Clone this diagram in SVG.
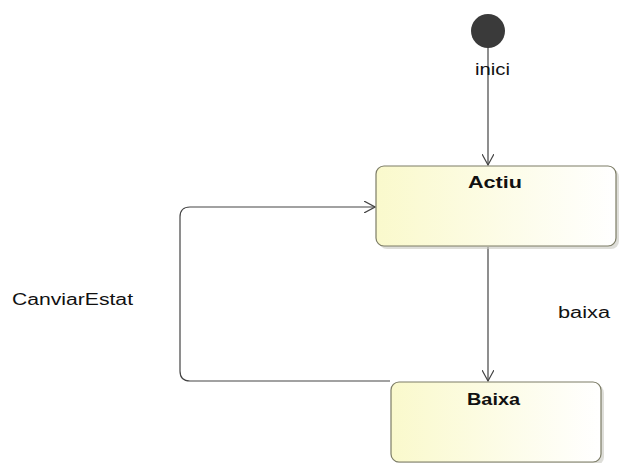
<svg xmlns="http://www.w3.org/2000/svg" width="619" height="463" viewBox="0 0 619 463">
  <style>
    text { font-family: "Liberation Sans", Arial, sans-serif; fill: #111; }
    .lbl { font-size: 16px; }
    .name { font-size: 17px; font-weight: bold; }
    .box { fill: url(#stateFill); stroke: #7c7c66; stroke-width: 1.2; }
    .shadow { fill: #c8c8c0; opacity: 0.6; }
    .conn { fill: none; stroke: #444; stroke-width: 1.2; }
  </style>
  <defs>
    <linearGradient id="stateFill" x1="0" y1="0" x2="1" y2="0">
      <stop offset="0" stop-color="#faf9cc"/>
      <stop offset="1" stop-color="#ffffff"/>
    </linearGradient>
    <marker id="openArrow" viewBox="0 0 12 12" refX="11" refY="6" markerWidth="12" markerHeight="12" markerUnits="userSpaceOnUse" orient="auto">
      <path d="M0,0 L11,6 L0,12" fill="none" stroke="#444" stroke-width="1.2"/>
    </marker>
  </defs>

  <g id="connectors">
    <path class="conn" d="M488,40 L488,165" marker-end="url(#openArrow)"/>
    <path class="conn" d="M488,247 L488,381" marker-end="url(#openArrow)"/>
    <path class="conn" d="M390,381 L190,381 Q180,381 180,371 L180,217 Q180,207 190,207 L375,207" marker-end="url(#openArrow)"/>
  </g>

  <g id="initial">
    <circle cx="488" cy="31" r="17" fill="#3a3a3a"/>
    <text class="lbl" x="475" y="75" textLength="35" lengthAdjust="spacingAndGlyphs">inici</text>
  </g>

  <g id="actiu">
    <rect class="shadow" x="379" y="169" width="240" height="80" rx="8"/>
    <rect class="box" x="376" y="166" width="240" height="80" rx="8"/>
    <text class="name" x="468" y="188" textLength="54" lengthAdjust="spacingAndGlyphs">Actiu</text>
  </g>

  <g id="baixa">
    <rect class="shadow" x="394" y="385" width="210" height="80" rx="8"/>
    <rect class="box" x="391" y="382" width="210" height="80" rx="8"/>
    <text class="name" x="467" y="405" textLength="53" lengthAdjust="spacingAndGlyphs">Baixa</text>
  </g>

  <g id="labels">
    <text class="lbl" x="12" y="305" textLength="121" lengthAdjust="spacingAndGlyphs">CanviarEstat</text>
    <text class="lbl" x="558" y="318" textLength="52" lengthAdjust="spacingAndGlyphs">baixa</text>
  </g>
</svg>
